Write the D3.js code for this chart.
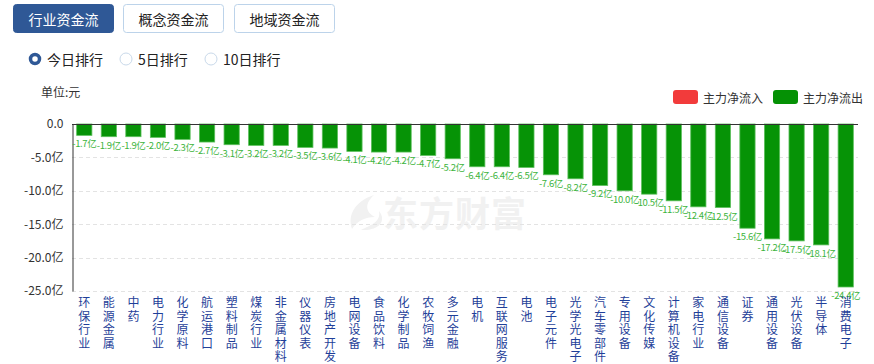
<!DOCTYPE html>
<html>
<head>
<meta charset="utf-8">
<script src="https://cdn.jsdelivr.net/npm/d3@7/dist/d3.min.js"></script>
<style>
body { margin: 0; background: #fff; }
svg { display: block; font-family: "Microsoft YaHei", "Noto Sans CJK SC", sans-serif; }
</style>
</head>
<body>
<svg id="chart" width="874" height="364"></svg>
<script>
// 行业资金流 今日排行
var categories = ["环保行业","能源金属","中药","电力行业","化学原料","航运港口","塑料制品","煤炭行业",
	"非金属材料","仪器仪表","房地产开发","电网设备","食品饮料","化学制品","农牧饲渔","多元金融",
	"电机","互联网服务","电池","电子元件","光学光电子","汽车零部件","专用设备","文化传媒",
	"计算机设备","家电行业","通信设备","证券","通用设备","光伏设备","半导体","消费电子"];
var netFlow = [-1.7,-1.9,-1.9,-2.0,-2.3,-2.7,-3.1,-3.2,-3.2,-3.5,-3.6,-4.1,-4.2,-4.2,-4.7,-5.2,
	-6.4,-6.4,-6.5,-7.6,-8.2,-9.2,-10.0,-10.5,-11.5,-12.4,-12.5,-15.6,-17.2,-17.5,-18.1,-24.4];
var yTicks = [0,-5,-10,-15,-20,-25];
var tabs = ["行业资金流","概念资金流","地域资金流"];
var ranks = ["今日排行","5日排行","10日排行"];
var legendItems = [{name:"主力净流入",color:"#f23b3b"},{name:"主力净流出",color:"#059105"}];

var svg = d3.select('#chart');

// 顶部按钮
var tabX = [13,123,234];
var tabG = svg.selectAll('g.tab').data(tabs).enter().append('g').attr('class','tab');
tabG.append('rect')
	.attr('x',function(d,i){ return tabX[i] + 0.5; })
	.attr('y',4.5)
	.attr('width',100)
	.attr('height',28)
	.attr('rx',3)
	.attr('fill',function(d,i){ return i == 0 ? '#2f5896' : '#fff'; })
	.attr('stroke',function(d,i){ return i == 0 ? '#2f5896' : '#bcd3ea'; });
tabG.append('text')
	.attr('x',function(d,i){ return tabX[i] + 50.5; })
	.attr('y',19)
	.attr('text-anchor','middle')
	.attr('dominant-baseline','central')
	.attr('font-size','14px')
	.attr('fill',function(d,i){ return i == 0 ? '#fff' : '#222'; })
	.text(function(d){ return d; });

// 排行选项
var radioX = [35,126,211];
var radioG = svg.selectAll('g.radio').data(ranks).enter().append('g').attr('class','radio');
radioG.append('circle')
	.attr('cx',function(d,i){ return radioX[i]; })
	.attr('cy',59)
	.attr('r',function(d,i){ return i == 0 ? 4.5 : 6; })
	.attr('fill','#fff')
	.attr('stroke',function(d,i){ return i == 0 ? '#2f5896' : '#c9d9ea'; })
	.attr('stroke-width',function(d,i){ return i == 0 ? 3.5 : 1; });
radioG.append('text')
	.attr('x',function(d,i){ return radioX[i] + 12; })
	.attr('y',59)
	.attr('dominant-baseline','central')
	.attr('font-size','14px')
	.attr('fill','#222')
	.text(function(d){ return d; });

svg.append('text')
	.attr('x',41).attr('y',97)
	.attr('font-size','12px')
	.attr('fill','#333')
	.text('单位:元');

// 图例
var legX = [673,773];
var legG = svg.selectAll('g.leg').data(legendItems).enter().append('g').attr('class','leg');
legG.append('rect')
	.attr('x',function(d,i){ return legX[i]; })
	.attr('y',90)
	.attr('width',25).attr('height',14).attr('rx',3)
	.attr('fill',function(d){ return d.color; });
legG.append('text')
	.attr('x',function(d,i){ return legX[i] + 30; })
	.attr('y',97)
	.attr('dominant-baseline','central')
	.attr('font-size','12px')
	.attr('fill','#333')
	.text(function(d){ return d.name; });

// 坐标
var plotL = 72, plotR = 858, plotT = 124, plotB = 291;
var x = d3.scaleBand().domain(categories).range([plotL,plotR]).paddingInner(0.38).paddingOuter(0.19);
var y = d3.scaleLinear().domain([0,-25]).range([plotT,plotB]);

// 水印
var wm = svg.append('g').attr('fill','#f1f1f1');
wm.append('path')
	.attr('d','M374 195 C356 201 347 214 352 229 C357 221 365 217 375 217 C367 213 363 205 374 195 Z M361 230 C371 225 381 222 379 211 C387 221 379 231 361 230 Z');
wm.append('text')
	.attr('x',383).attr('y',211)
	.attr('dominant-baseline','central')
	.attr('font-size','35px')
	.attr('font-weight','bold')
	.attr('letter-spacing','1px')
	.text('东方财富');

// 网格
svg.append('g').selectAll('line').data(yTicks.slice(1)).enter().append('line')
	.attr('x1',plotL).attr('x2',plotR)
	.attr('y1',function(d){ return Math.round(y(d)) + 0.5; })
	.attr('y2',function(d){ return Math.round(y(d)) + 0.5; })
	.attr('stroke','#e3e3e3')
	.attr('stroke-dasharray','4,3');

// y轴
var yAxis = svg.append('g')
	.attr('transform','translate(' + (plotL + 0.5) + ',0)')
	.call(d3.axisLeft(y).tickValues(yTicks).tickSize(0).tickPadding(9)
		.tickFormat(function(d){ return d == 0 ? '0.0' : d.toFixed(1) + '亿'; }));
yAxis.select('.domain').attr('stroke','#333');
yAxis.selectAll('text').attr('font-size','12px').attr('fill','#333').attr('font-family','"Microsoft YaHei", "Noto Sans CJK SC", sans-serif');

// 柱子
svg.append('g').selectAll('rect').data(netFlow).enter().append('rect')
	.attr('x',function(d,i){ return x(categories[i]); })
	.attr('y',y(0))
	.attr('width',x.bandwidth())
	.attr('height',function(d){ return y(d) - y(0); })
	.attr('fill','#069306')
	.attr('stroke','#5cbf5c')
	.attr('stroke-width',0.8);

// 数值
svg.append('g').selectAll('text').data(netFlow).enter().append('text')
	.attr('x',function(d,i){ return x(categories[i]) + x.bandwidth() / 2; })
	.attr('y',function(d){ return y(d) + 8; })
	.attr('text-anchor','middle')
	.attr('dominant-baseline','central')
	.attr('font-size','9.5px')
	.attr('letter-spacing','-0.4px')
	.attr('fill','#3cb43c')
	.text(function(d){ return d.toFixed(1) + '亿'; });

// 零线
svg.append('line')
	.attr('x1',plotL).attr('x2',plotR)
	.attr('y1',plotT + 0.5).attr('y2',plotT + 0.5)
	.attr('stroke','#333');

// x轴竖排标签
var xl = svg.append('g').selectAll('text').data(categories).enter().append('text')
	.attr('x',function(d){ return x(d) + x.bandwidth() / 2; })
	.attr('y',303)
	.attr('text-anchor','middle')
	.attr('font-size','12px')
	.attr('fill','#1f3f99');
xl.selectAll('tspan').data(function(d){ return d.split(''); }).enter().append('tspan')
	.attr('x',function(){ var p = this.parentNode; return p.getAttribute('x'); })
	.attr('dy',function(d,i){ return i == 0 ? '0.35em' : 13.5; })
	.text(function(d){ return d; });
</script>
</body>
</html>
